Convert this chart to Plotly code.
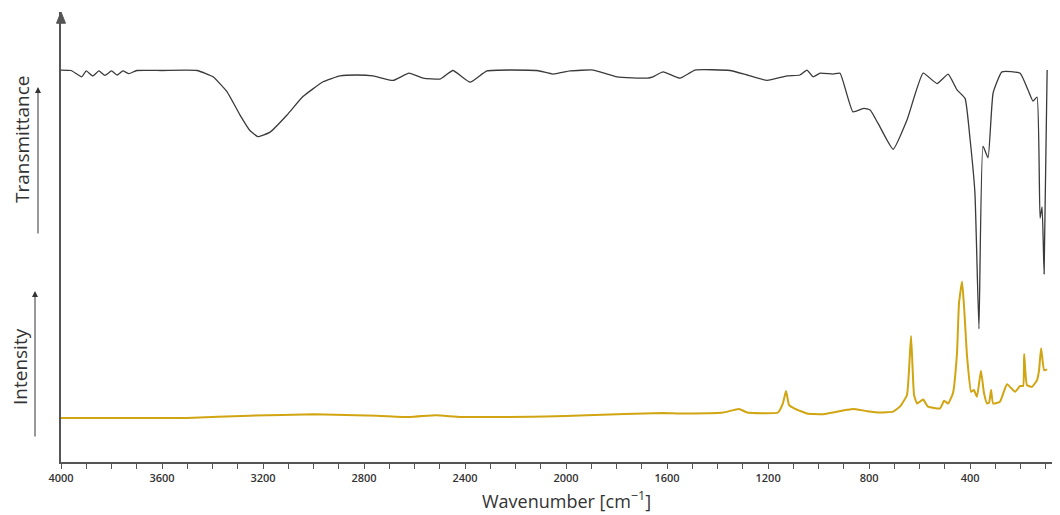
import plotly.graph_objects as go

# IR transmittance spectrum (black), wavenumber in cm^-1, arbitrary units
ir_wn = [4000, 3960, 3918, 3900, 3874, 3850, 3826, 3800, 3778, 3755, 3731, 3700, 3600, 3461,
         3398, 3343, 3291, 3251, 3220, 3172, 3105, 3042, 2962, 2895, 2828, 2764, 2685, 2622,
         2566, 2499, 2448, 2380, 2313, 2115, 2052, 1984, 1893, 1798, 1679, 1656, 1616, 1549,
         1489, 1351, 1283, 1204, 1125, 1074, 1046, 1022, 994, 943, 915, 864, 820, 796, 765,
         705, 650, 586, 531, 487, 452, 420, 400, 381, 365, 349, 329, 309, 274, 202, 171, 151,
         135, 123, 115, 107, 95]
ir_val = [87.1, 87.0, 85.6, 86.9, 85.8, 86.9, 85.9, 86.9, 86.0, 86.9, 86.3, 87.0, 87.0, 87.0,
          85.6, 82.3, 77.1, 73.6, 72.3, 73.3, 77.1, 81.2, 84.5, 85.8, 86.0, 85.8, 84.8, 86.4,
          85.3, 85.1, 87.0, 84.4, 86.9, 87.0, 86.2, 86.9, 87.1, 85.6, 85.3, 85.6, 86.7, 85.3,
          87.1, 87.0, 86.0, 84.8, 85.8, 86.0, 87.1, 85.6, 86.4, 86.2, 86.4, 77.8, 78.6, 78.2,
          75.3, 69.5, 76.0, 86.4, 84.1, 86.2, 82.7, 80.8, 71.6, 59.8, 29.6, 70.2, 67.6, 82.0,
          86.7, 86.4, 82.7, 80.2, 81.1, 54.2, 56.7, 41.8, 87.1]

# Raman intensity spectrum (gold), arbitrary units
ra_wn = [4000, 3501, 3252, 2998, 2749, 2618, 2515, 2416, 2083, 1917, 1616, 1549, 1378, 1315,
         1283, 1161, 1141, 1129, 1117, 1093, 1046, 983, 887, 864, 808, 757, 705, 678, 650, 634,
         622, 610, 586, 567, 519, 503, 487, 468, 452, 444, 432, 424, 412, 396, 385, 373, 357,
         345, 333, 325, 317, 309, 282, 254, 222, 202, 190, 186, 175, 155, 135, 127, 119, 107, 95]
ra_val = [9.8, 9.8, 10.3, 10.6, 10.3, 10.0, 10.4, 10.0, 10.1, 10.4, 10.9, 10.8, 11.0, 11.8,
          11.0, 11.0, 13.1, 15.8, 12.7, 11.8, 10.8, 10.6, 11.6, 11.8, 11.3, 11.0, 11.2, 12.3,
          14.9, 28.0, 14.9, 13.0, 13.9, 12.3, 11.9, 13.6, 13.0, 15.3, 24.2, 35.3, 40.1, 34.5,
          23.4, 15.6, 16.0, 14.5, 20.3, 15.3, 13.0, 13.2, 16.0, 13.0, 13.4, 17.3, 15.6, 16.9,
          16.9, 24.0, 17.1, 16.7, 18.2, 20.4, 25.3, 20.4, 20.6]

x_ticks = [4000, 3600, 3200, 2800, 2400, 2000, 1600, 1200, 800, 400]

AX = "#555555"
TXT = "#333333"

fig = go.Figure()
fig.add_trace(go.Scatter(x=ir_wn, y=ir_val, mode="lines",
                         line=dict(color="#3a3a3a", width=1.3, shape="spline", smoothing=0.4),
                         hoverinfo="skip", showlegend=False))
fig.add_trace(go.Scatter(x=ra_wn, y=ra_val, mode="lines",
                         line=dict(color="#D1A511", width=2, shape="spline", smoothing=0.4),
                         hoverinfo="skip", showlegend=False))

# page body has an 8px margin, so the figure is sized/offset accordingly
PW, PH = 997, 450
fig.update_layout(
    width=1052, height=507,
    margin=dict(l=53, r=2, t=4, b=53),
    paper_bgcolor="white", plot_bgcolor="white",
    font=dict(family="Open Sans", color=TXT),
    xaxis=dict(range=[4000, 52], showgrid=False, zeroline=False,
               showline=True, linecolor=AX, linewidth=1.5,
               tickmode="array", tickvals=x_ticks, ticktext=[str(v) for v in x_ticks],
               ticks="outside", ticklen=5, tickcolor=AX, tickwidth=1.2,
               minor=dict(dtick=100, tick0=0, ticks="outside", ticklen=5, tickcolor=AX, tickwidth=1.2),
               tickfont=dict(family="Open Sans", size=11, color=TXT, weight=600)),
    yaxis=dict(range=[0, 100], showgrid=False, zeroline=False,
               showline=True, linecolor=AX, linewidth=1.5,
               showticklabels=False, ticks=""),
)

# arrowhead on top of y axis
fig.add_shape(type="path", xref="paper", yref="paper",
              path="M -0.0045 0.975 L 0.0045 0.975 L 0 1.0 Z",
              fillcolor=AX, line=dict(color=AX, width=1))

# x-axis title
fig.add_annotation(text="Wavenumber [cm<sup>−1</sup>]", xref="paper", yref="paper",
                   x=(566 - 61) / PW, y=(462 - 500) / PH, showarrow=False,
                   font=dict(size=18, color=TXT, family="Open Sans"), xanchor="center", yanchor="middle")

# y labels with arrows
fig.add_annotation(text="Transmittance", xref="paper", yref="paper",
                   x=(22 - 61) / PW, y=(462 - 140) / PH, textangle=-90, showarrow=False,
                   font=dict(size=19, color=TXT, family="Open Sans"), xanchor="center", yanchor="middle")
fig.add_annotation(text="Intensity", xref="paper", yref="paper",
                   x=(20 - 61) / PW, y=(462 - 367) / PH, textangle=-90, showarrow=False,
                   font=dict(size=19, color=TXT, family="Open Sans"), xanchor="center", yanchor="middle")
fig.add_annotation(text="", xref="paper", yref="paper",
                   x=(38 - 61) / PW, y=(462 - 87) / PH, ax=0, ay=148,
                   showarrow=True, arrowhead=2, arrowsize=1.2, arrowwidth=1, arrowcolor=TXT)
fig.add_annotation(text="", xref="paper", yref="paper",
                   x=(35 - 61) / PW, y=(462 - 291) / PH, ax=0, ay=147,
                   showarrow=True, arrowhead=2, arrowsize=1.2, arrowwidth=1, arrowcolor=TXT)

fig.write_html("out.html")
